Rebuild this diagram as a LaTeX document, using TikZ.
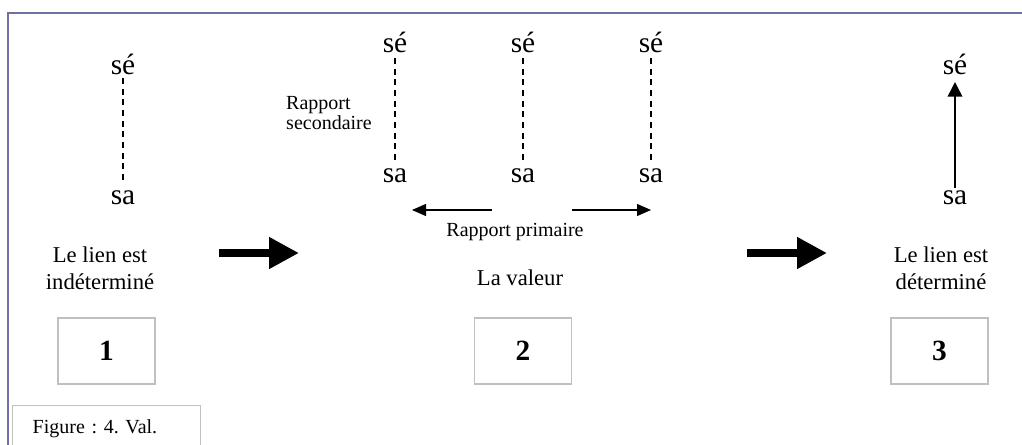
\documentclass[tikz,border=0pt]{standalone}
\usepackage{fontspec}
\setmainfont{Liberation Serif}
\usetikzlibrary{arrows.meta}
\definecolor{framec}{RGB}{112,112,162}
\definecolor{boxgray}{RGB}{192,192,192}
\frenchspacing
\tikzset{
  sig/.style={font=\fontsize{22}{22}\selectfont, inner sep=0pt, anchor=base},
  caption/.style={font=\fontsize{17}{20}\selectfont, align=center, inner sep=0pt},
  smalltxt/.style={font=\fontsize{15}{14.5}\selectfont, align=left, inner sep=0pt},
  numbox/.style={draw=boxgray, line width=1.1pt, minimum width=72.75pt, minimum height=49.5pt,
    inner sep=0pt, font=\fontsize{22}{22}\selectfont\bfseries},
  dashlink/.style={line width=0.8pt, dash pattern=on 4.5pt off 3.5pt},
  bigarrow/.style={line width=6pt, -{Triangle[length=22.5pt,width=22.5pt]}},
  thinarrow/.style={line width=1pt, -{Triangle[length=10.5pt,width=9pt]}}
}
\begin{document}
\begin{tikzpicture}[x=0.75pt, y=-0.75pt]
\useasboundingbox (0,0) rectangle (1022,445);
\clip (0,0) rectangle (1022,445);
% frame
\draw[framec, line width=1.6pt] (8,445) -- (8,13) -- (1022,13);

% column 1
\node[sig] (se1) at (123,75) {sé};
\node[sig] (sa1) at (123,205) {sa};
\draw[dashlink] ([yshift=-2.25pt]se1.base) -- ([yshift=16.5pt]sa1.base);
\node[caption] (c1) at (100,268) {Le lien est\\indéterminé};
\node[numbox] (b1) at (106.5,351) {1};

% big arrow 1
\coordinate (a1s) at (219,253);
\coordinate (a1e) at (299,253);
\draw[bigarrow] (a1s) -- (a1e);

% column 2
\node[smalltxt] (rs) at (329,113) {Rapport\\secondaire};
\node[sig] (se2) at (395,53) {sé};
\node[sig] (sa2) at (395,183) {sa};
\node[sig] (se3) at (523,53) {sé};
\node[sig] (sa3) at (523,183) {sa};
\node[sig] (se4) at (651,53) {sé};
\node[sig] (sa4) at (651,183) {sa};
\draw[dashlink] ([yshift=-3.75pt]se2.base) -- ([yshift=15pt]sa2.base);
\draw[dashlink] ([yshift=-3.75pt]se3.base) -- ([yshift=15pt]sa3.base);
\draw[dashlink] ([yshift=-3.75pt]se4.base) -- ([yshift=15pt]sa4.base);
\coordinate (pl0) at (492,210);
\coordinate (pl1) at (412,210);
\coordinate (pr0) at (572,210);
\coordinate (pr1) at (651,210);
\draw[thinarrow] (pl0) -- (pl1);
\draw[thinarrow] (pr0) -- (pr1);
\node[smalltxt] (rp) at (515,232) {Rapport primaire};
\node[caption] (val) at (520,278) {La valeur};
\node[numbox] (b2) at (523,351) {2};

% big arrow 2
\coordinate (a2s) at (747,253);
\coordinate (a2e) at (827,253);
\draw[bigarrow] (a2s) -- (a2e);

% column 3
\node[sig] (se5) at (955,75) {sé};
\node[sig] (sa5) at (955,205) {sa};
\draw[line width=1.1pt, -{Triangle[length=11pt,width=11pt]}] ([yshift=12.75pt]sa5.base) -- ([yshift=-5.25pt]se5.base);
\node[caption] (c3) at (941,268) {Le lien est\\déterminé};
\node[numbox] (b3) at (939.5,351) {3};

% figure label
\node[draw=boxgray, line width=1.1pt, anchor=north west, minimum height=34.5pt,
  text width=111pt, inner xsep=15pt, inner ysep=0pt, align=left,
  font=\fontsize{15}{15}\selectfont] (fig) at (12,405) {Figure : 4. Val.};
\end{tikzpicture}
\end{document}
